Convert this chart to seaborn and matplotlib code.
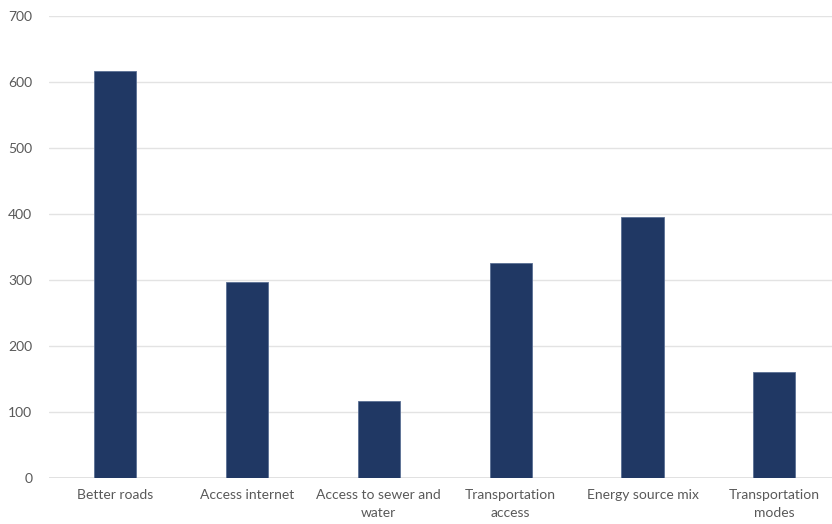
import matplotlib
matplotlib.use("Agg")
import matplotlib.pyplot as plt
import seaborn as sns
import pandas as pd

categories = ["Better roads", "Access internet", "Access to sewer and\nwater",
              "Transportation\naccess", "Energy source mix", "Transportation\nmodes"]
counts = [617, 297, 117, 326, 395, 161]
y_ticks = [0, 100, 200, 300, 400, 500, 600, 700]

df = pd.DataFrame({"category": categories, "count": counts})

sns.set_style("white")
plt.rcParams["font.family"] = ["Lato", "DejaVu Sans"]

fig = plt.figure(figsize=(8.32, 5.24), dpi=100)
ax = fig.add_axes([0.059, 0.088, 0.951, 0.882])

sns.barplot(data=df, x="category", y="count", color="#203864", width=0.32,
            edgecolor="#5a6f94", linewidth=0.6, saturation=1, ax=ax)

ax.set_ylim(0, 700)
ax.set_yticks(y_ticks)
ax.set_xlim(-0.5, len(categories) - 0.5)
ax.set_xticks(range(len(categories)))
ax.set_xticklabels(categories, linespacing=1.6)
ax.yaxis.grid(True, color="#e3e3e3", linewidth=1)
ax.set_axisbelow(True)
for s in ax.spines.values():
    s.set_visible(False)
ax.axhline(0, color="#dcdcdc", linewidth=1.2, zorder=0)
ax.set_xlabel("")
ax.set_ylabel("")
ax.tick_params(axis="both", length=0, labelsize=10, labelcolor="#595959")
ax.tick_params(axis="y", pad=12)
ax.tick_params(axis="x", pad=8)

fig.savefig("out.png", dpi=100)
